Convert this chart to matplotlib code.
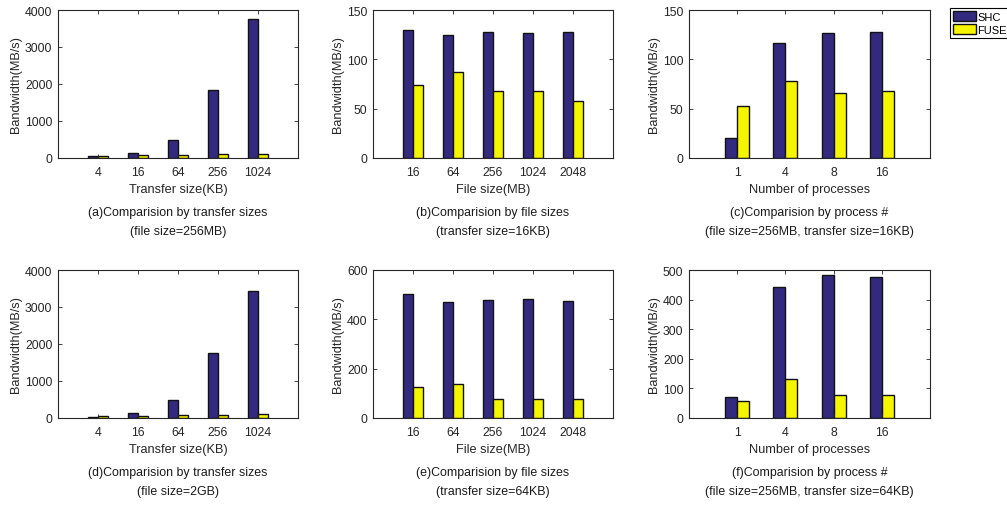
import matplotlib
matplotlib.use("Agg")
import matplotlib.pyplot as plt
import numpy as np

plt.rcParams['font.family'] = ['Liberation Sans', 'DejaVu Sans']

series_names = ["SHC", "FUSE"]

# (a) transfer sizes, file size=256MB
a_cats = ["4", "16", "64", "256", "1024"]
a_shc = [45, 135, 485, 1830, 3745]
a_fuse = [60, 75, 85, 100, 100]

# (b) file sizes, transfer size=16KB
b_cats = ["16", "64", "256", "1024", "2048"]
b_shc = [129.4, 124.4, 127.4, 126.4, 127.4]
b_fuse = [74.2, 87.6, 68.4, 67.4, 57.6]

# (c) process #, 256MB / 16KB
c_cats = ["1", "4", "8", "16"]
c_shc = [20.2, 116.6, 126.4, 127.4]
c_fuse = [52.6, 78.5, 65.4, 68.4]

# (d) transfer sizes, file size=2GB
d_cats = ["4", "16", "64", "256", "1024"]
d_shc = [36, 135, 484, 1749, 3426]
d_fuse = [54, 63, 81, 90, 99]

# (e) file sizes, transfer size=64KB
e_cats = ["16", "64", "256", "1024", "2048"]
e_shc = [501.6, 469, 477, 484, 476]
e_fuse = [126.7, 139, 78, 75.5, 75.5]

# (f) process #, 256MB / 64KB
f_cats = ["1", "4", "8", "16"]
f_shc = [69.7, 442.7, 484.3, 477.5]
f_fuse = [57.3, 132.6, 76.4, 78.7]

panels = [
    (a_cats, a_shc, a_fuse, 4000, [0, 1000, 2000, 3000, 4000], "Transfer size(KB)",
     "(a)Comparision by transfer sizes", "(file size=256MB)"),
    (b_cats, b_shc, b_fuse, 150, [0, 50, 100, 150], "File size(MB)",
     "(b)Comparision by file sizes", "(transfer size=16KB)"),
    (c_cats, c_shc, c_fuse, 150, [0, 50, 100, 150], "Number of processes",
     "(c)Comparision by process #", "(file size=256MB, transfer size=16KB)"),
    (d_cats, d_shc, d_fuse, 4000, [0, 1000, 2000, 3000, 4000], "Transfer size(KB)",
     "(d)Comparision by transfer sizes", "(file size=2GB)"),
    (e_cats, e_shc, e_fuse, 600, [0, 200, 400, 600], "File size(MB)",
     "(e)Comparision by file sizes", "(transfer size=64KB)"),
    (f_cats, f_shc, f_fuse, 500, [0, 100, 200, 300, 400, 500], "Number of processes",
     "(f)Comparision by process #", "(file size=256MB, transfer size=64KB)"),
]

W, H = 1007, 506
fig = plt.figure(figsize=(W / 100, H / 100), dpi=100)

col_lr = [(58, 298), (373, 613), (689, 930)]
row_tb = [(11, 159), (271, 419)]

shc_color = "#332a80"
fuse_color = "#f5f500"
txt = "#262626"

handles = None
for i, (cats, shc, fuse, ymax, yt, xl, cap1, cap2) in enumerate(panels):
    r, c = divmod(i, 3)
    l, rr = col_lr[c]
    t, b = row_tb[r]
    ax = fig.add_axes([l / W, 1 - b / H, (rr - l) / W, (b - t) / H])
    x = np.arange(1, len(cats) + 1)
    bw = 0.25
    h1 = ax.bar(x - bw / 2, shc, width=bw, color=shc_color, edgecolor="#111111", linewidth=1.0)
    h2 = ax.bar(x + bw / 2, fuse, width=bw, color=fuse_color, edgecolor="#111111", linewidth=1.0)
    handles = [h1, h2]
    ax.set_xlim(0, len(cats) + 1)
    ax.set_ylim(0, ymax)
    ax.set_xticks(x)
    ax.set_xticklabels(cats)
    ax.set_yticks(yt)
    ax.tick_params(direction="in", length=3, width=0.6, labelsize=8.8, colors=txt,
                   top=True, right=True)
    ax.tick_params(axis="x", pad=6)
    ax.tick_params(axis="y", pad=4)
    for s in ax.spines.values():
        s.set_linewidth(0.8)
        s.set_color(txt)
    ax.set_xlabel(xl, fontsize=9.2, color=txt, labelpad=3.5)
    ax.set_ylabel("Bandwidth(MB/s)", fontsize=9.2, color=txt, labelpad=2)
    cx = (l + rr) / 2 / W
    fig.text(cx, 1 - (b + 54) / H, cap1, ha="center", va="center", fontsize=8.9, color="#1a1a1a")
    fig.text(cx, 1 - (b + 73) / H, cap2, ha="center", va="center", fontsize=8.9, color="#1a1a1a")

leg = fig.legend(handles, series_names, loc="upper left",
                 bbox_to_anchor=(950 / W, 1 - 9 / H), fontsize=8,
                 fancybox=False, framealpha=1, edgecolor="black",
                 handlelength=2.0, handleheight=1.0, handletextpad=0.15,
                 borderpad=0.3, labelspacing=0.2, borderaxespad=0)
leg.get_frame().set_linewidth(0.8)

fig.savefig("out.png", dpi=100)
